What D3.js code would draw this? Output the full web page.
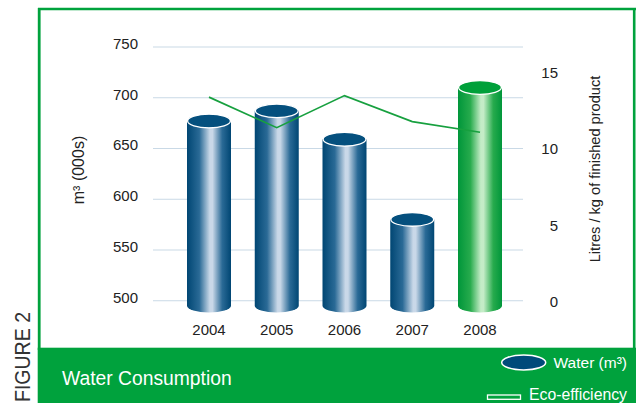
<!DOCTYPE html>
<html>
<head>
<meta charset="utf-8">
<script src="https://cdn.jsdelivr.net/npm/d3@7"></script>
<style>
  html, body { margin: 0; padding: 0; background: #fff; }
  svg { display: block; font-family: "Liberation Sans", Arial, Helvetica, sans-serif; }
</style>
</head>
<body>
<svg id="chart" width="636" height="403"></svg>
<script>
// Water consumption per year (000s m³) and eco-efficiency (litres / kg of finished product)
const years = ["2004", "2005", "2006", "2007", "2008"];
const water = [682, 692, 664, 585, 715];
const ecoEfficiency = [13.4, 11.4, 13.5, 11.8, 11.1];
const waterTicks = [500, 550, 600, 650, 700, 750];
const ecoTicks = [0, 5, 10, 15];
const highlightYear = "2008";

const GREEN = "#00a23d";
const svg = d3.select("#chart");
const defs = svg.append("defs");

// Cylinder shading gradients
function cylGradient(id, edge, mid, light) {
  const g = defs.append("linearGradient").attr("id", id)
    .attr("x1", "0%").attr("x2", "100%").attr("y1", "0%").attr("y2", "0%");
  [[0, edge], [0.28, mid], [0.52, light], [0.58, light], [0.8, mid], [1, edge]]
    .forEach(([o, c]) => g.append("stop").attr("offset", o).attr("stop-color", c));
}
cylGradient("gBlue", "#004673", "#2a6a96", "#c9d8e8");
cylGradient("gGreen", "#00963a", "#27ab4d", "#c4ecc7");

// Frame
svg.append("line").attr("x1", 38).attr("x2", 636).attr("y1", 9).attr("y2", 9)
  .attr("stroke", GREEN).attr("stroke-width", 2.6);
svg.append("line").attr("x1", 39.2).attr("x2", 39.2).attr("y1", 8).attr("y2", 350)
  .attr("stroke", GREEN).attr("stroke-width", 2.8);
svg.append("line").attr("x1", 634.2).attr("x2", 634.2).attr("y1", 8).attr("y2", 350)
  .attr("stroke", GREEN).attr("stroke-width", 2.6);

// Scales
const x = d3.scalePoint().domain(years).range([209, 480]);
const y = d3.scaleLinear().domain([500, 750]).range([300.7, 47]);
const y2 = d3.scaleLinear().domain([0, 15]).range([301.7, 72.7]);

// Gridlines
svg.append("g").selectAll("line").data(waterTicks).join("line")
  .attr("x1", 153).attr("x2", 523)
  .attr("y1", d => y(d)).attr("y2", d => y(d))
  .attr("stroke", "#c9d9e6").attr("stroke-width", 1.1);

// Left axis
const leftAxis = svg.append("g").attr("transform", "translate(138,0)")
  .call(d3.axisLeft(y).tickValues(waterTicks).tickSize(0).tickPadding(0));
leftAxis.select(".domain").remove();
leftAxis.selectAll("text").attr("dy", "0.1em").attr("font-size", 15)
  .attr("fill", "#222").attr("font-family", "Liberation Sans, Arial, sans-serif");

// Right axis
const rightAxis = svg.append("g").attr("transform", "translate(558,0)")
  .call(d3.axisLeft(y2).tickValues(ecoTicks).tickSize(0).tickPadding(0));
rightAxis.select(".domain").remove();
rightAxis.selectAll("text").attr("font-size", 15)
  .attr("fill", "#222").attr("font-family", "Liberation Sans, Arial, sans-serif");

// Cylinders
const rx = 22, ry = 6.8, depth = 5;
const bars = svg.append("g").selectAll("g").data(years.map((yr, i) => ({ yr, v: water[i] }))).join("g");
bars.append("path")
  .attr("d", d => {
    const cx = x(d.yr), top = y(d.v) + depth, bot = y(500) + depth;
    return `M${cx - rx},${top} L${cx - rx},${bot} A${rx},${ry} 0 0 0 ${cx + rx},${bot} L${cx + rx},${top} Z`;
  })
  .attr("fill", d => d.yr === highlightYear ? "url(#gGreen)" : "url(#gBlue)");
bars.append("ellipse")
  .attr("cx", d => x(d.yr)).attr("cy", d => y(d.v) + depth)
  .attr("rx", rx - 0.6).attr("ry", ry)
  .attr("fill", d => d.yr === highlightYear ? "#00a03a" : "#05507e")
  .attr("stroke", "#fff").attr("stroke-width", 1.3);

// Eco-efficiency line
svg.append("path")
  .datum(years.map((yr, i) => ({ yr, v: ecoEfficiency[i] })))
  .attr("fill", "none").attr("stroke", "#17a03f").attr("stroke-width", 1.7)
  .attr("d", d3.line().x(d => x(d.yr)).y(d => y2(d.v)));

// Year labels
svg.append("g").selectAll("text").data(years).join("text")
  .attr("x", d => x(d)).attr("y", 335)
  .attr("text-anchor", "middle").attr("font-size", 15).attr("fill", "#222")
  .text(d => d);

// Axis titles
svg.append("text").attr("transform", "translate(84,170) rotate(-90)")
  .attr("text-anchor", "middle").attr("font-size", 16).attr("fill", "#222")
  .text("m³ (000s)");
svg.append("text").attr("transform", "translate(600,169) rotate(-90)")
  .attr("text-anchor", "middle").attr("font-size", 14.6).attr("fill", "#222")
  .text("Litres / kg of finished product");

// Side label
svg.append("text").attr("transform", "translate(30,402) rotate(-90)")
  .attr("text-anchor", "start").attr("font-size", 22).attr("fill", "#333")
  .attr("textLength", 90).attr("lengthAdjust", "spacingAndGlyphs")
  .text("FIGURE 2");

// Title band
svg.append("rect").attr("x", 37.7).attr("y", 347.7).attr("width", 600).attr("height", 60)
  .attr("fill", GREEN);
svg.append("text").attr("x", 62).attr("y", 385)
  .attr("font-size", 19.3).attr("fill", "#fff")
  .text("Water Consumption");

// Legend
svg.append("ellipse").attr("cx", 523.7).attr("cy", 362.5).attr("rx", 22).attr("ry", 7.5)
  .attr("fill", "#004a7a").attr("stroke", "#fff").attr("stroke-width", 1.5);
svg.append("text").attr("x", 627).attr("y", 368).attr("text-anchor", "end")
  .attr("font-size", 15.5).attr("fill", "#fff").text("Water (m³)");
svg.append("rect").attr("x", 487.5).attr("y", 395).attr("width", 33).attr("height", 4.3)
  .attr("fill", GREEN).attr("stroke", "#fff").attr("stroke-width", 1.3);
svg.append("text").attr("x", 627).attr("y", 400).attr("text-anchor", "end")
  .attr("font-size", 15.8).attr("fill", "#fff").text("Eco-efficiency");
</script>
</body>
</html>
